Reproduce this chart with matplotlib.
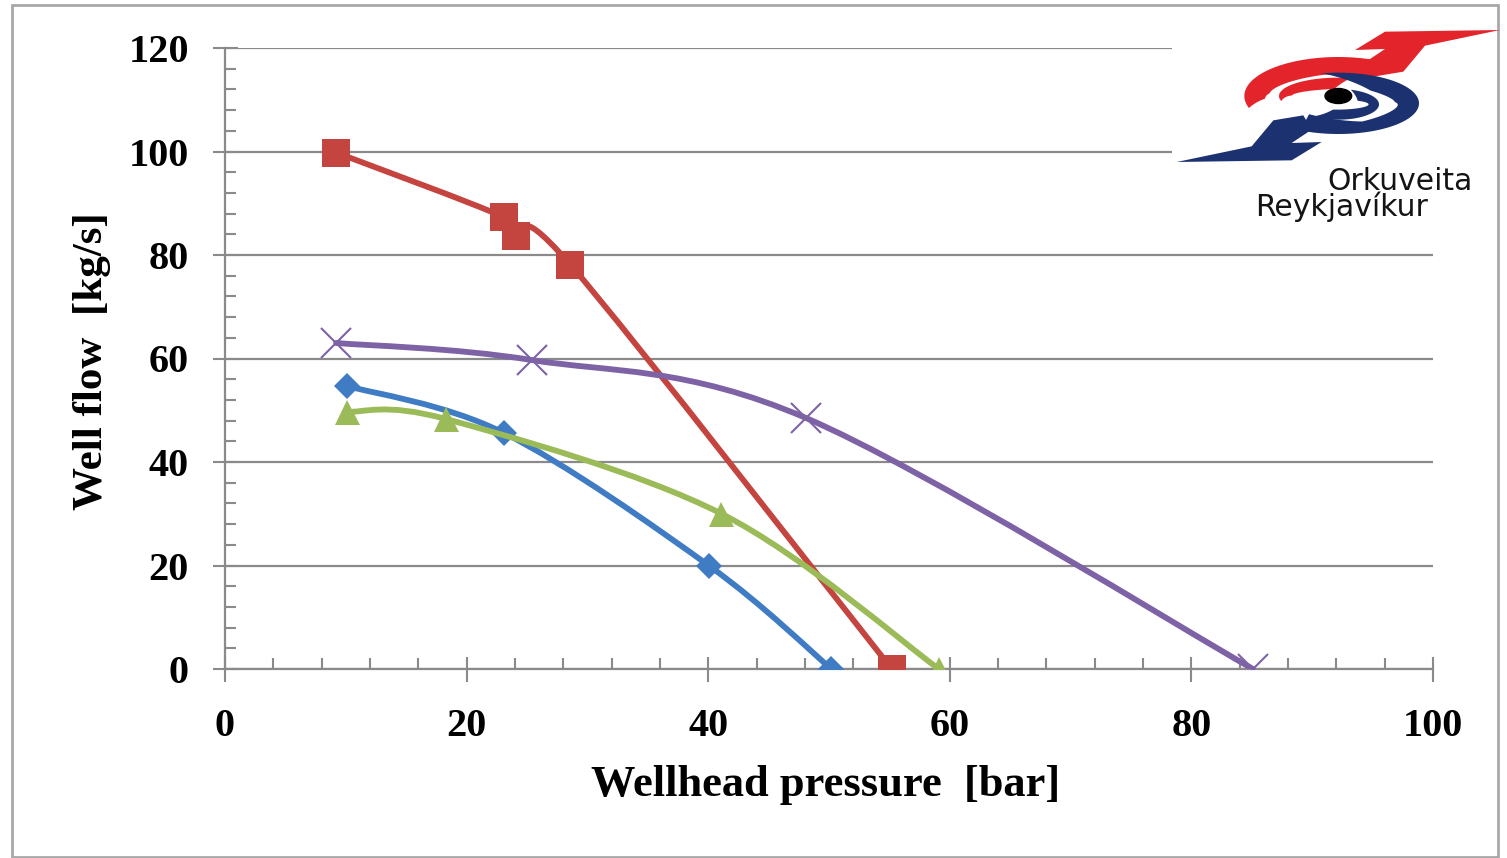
import numpy as np
import matplotlib
matplotlib.use("Agg")
import matplotlib.pyplot as plt
from matplotlib.path import Path
from matplotlib.patches import PathPatch, Polygon, Ellipse, Rectangle
from matplotlib.ticker import MultipleLocator

W, H = 1507, 858

# wellhead pressure [bar] and well flow [kg/s] for each well
blue_p = [10.1, 23.1, 40.1, 50.2]
blue_q = [54.7, 45.6, 19.9, 0.0]
red_p = [9.2, 23.1, 24.1, 28.6, 55.2]
red_q = [99.8, 87.3, 83.7, 78.1, 0.0]
green_p = [10.1, 18.3, 41.1, 59.1]
green_q = [49.7, 48.3, 30.0, 0.0]
purple_p = [9.2, 25.4, 48.1, 85.1]
purple_q = [63.0, 59.7, 48.5, 0.0]

x_ticks = [0, 20, 40, 60, 80, 100]
y_ticks = [0, 20, 40, 60, 80, 100, 120]

GRAY = "#8a8a8a"
SERIF = "Liberation Serif"


def smooth_path(xs, ys):
    # excel style smoothed line: cubic bezier through the points
    pts = np.column_stack([xs, ys]).astype(float)
    n = len(pts)
    verts = [pts[0]]
    codes = [Path.MOVETO]
    for i in range(n - 1):
        p0 = pts[max(i - 1, 0)]
        p1 = pts[i]
        p2 = pts[i + 1]
        p3 = pts[min(i + 2, n - 1)]
        verts += [p1 + (p2 - p0) / 6, p2 - (p3 - p1) / 6, p2]
        codes += [Path.CURVE4] * 3
    return Path(verts, codes)


def draw_series(ax, xs, ys, color, marker, ms, z, mew=0):
    line = PathPatch(smooth_path(xs, ys), fill=False, edgecolor=color, lw=4.2,
                     capstyle="round", joinstyle="round", zorder=z,
                     transform=ax.transData)
    ax.add_patch(line)
    ax.plot(xs, ys, linestyle="none", marker=marker, ms=ms,
            mfc=color, mec=color, mew=mew, zorder=z + 0.5)


def crescent(cx, cy, a, b, t0, t1, wt, ww):
    # elliptic band whose width follows (wt, ww) along the angle
    t = np.linspace(t0, t1, 120)
    if t1 > t0:
        w = np.interp(t, wt, ww)
    else:
        w = np.interp(-t, [-v for v in wt], ww)
    r = np.radians(t)
    outer = np.column_stack([cx + a * np.cos(r), cy - b * np.sin(r)])
    inner = np.column_stack([cx + (a - w) * np.cos(r), cy - (b - w) * np.sin(r)])
    return np.vstack([outer, inner[::-1]])


def draw_logo(fig):
    lax = fig.add_axes([1172 / W, 1 - 166 / H, (1495 - 1172) / W, (166 - 25) / H])
    lax.set_xlim(6, 975)
    lax.set_ylim(423, 0)
    lax.set_facecolor("white")
    lax.set_xticks([])
    lax.set_yticks([])
    for s in lax.spines.values():
        s.set_visible(False)
    lax.set_zorder(5)

    red = "#e3252b"
    blue = "#1c3170"
    c = np.array([505, 213])

    bolt = np.array([(990, 15), (645, 20), (555, 75), (645, 72), (585, 112),
                     (610, 155), (700, 140), (765, 62)], float)
    lax.add_patch(Polygon(bolt, closed=True, color=red, lw=0, clip_on=False))
    lax.add_patch(Polygon(crescent(505, 213, 282, 117, 62, 198,
                                   [62, 100, 170, 188, 198], [56, 52, 72, 60, 0]),
                          closed=True, color=red, lw=0))
    lax.add_patch(Polygon(crescent(505, 213, 178, 55, 78, 196,
                                   [78, 95, 175, 196], [0, 34, 38, 0]),
                          closed=True, color=red, lw=0))

    lax.add_patch(Polygon(2 * c - bolt, closed=True, color=blue, lw=0, clip_on=False))
    lax.add_patch(Polygon(crescent(505, 235, 242, 92, 102, -118,
                                   [102, 60, 10, -70, -118], [0, 48, 70, 34, 55]),
                          closed=True, color=blue, lw=0))
    lax.add_patch(Polygon(crescent(505, 238, 122, 46, 72, -128,
                                   [72, 50, -100, -128], [0, 32, 30, 0]),
                          closed=True, color=blue, lw=0))
    lax.add_patch(Ellipse((505, 213), 80, 45, color="black"))

    fig.text(1473 / W, 1 - 190 / H, "Orkuveita", ha="right", va="baseline",
             fontsize=21.5, color="#141414", family="DejaVu Sans", zorder=10)
    fig.text(1255 / W, 1 - 216 / H, "Reykjavíkur", ha="left", va="baseline",
             fontsize=21.5, color="#141414", family="DejaVu Sans", zorder=10)


def main():
    fig = plt.figure(figsize=(W / 100, H / 100), dpi=100)
    fig.patches.append(Rectangle((12 / W, 1 - 857 / H), (1498 - 12) / W, (857 - 5) / H,
                                 transform=fig.transFigure, fill=False,
                                 edgecolor="#a8a8a8", lw=2))

    ax = fig.add_axes([225 / W, 1 - 669 / H, (1433 - 225) / W, (669 - 48) / H])
    ax.set_xlim(0, 100)
    ax.set_ylim(0, 120)

    draw_series(ax, blue_p, blue_q, "#3f7cc4", "D", 13, 3)
    draw_series(ax, red_p, red_q, "#c4443f", "s", 20, 4)
    draw_series(ax, green_p, green_q, "#9bbb59", "^", 18, 5)
    draw_series(ax, purple_p, purple_q, "#7d62a6", "x", 21, 6, mew=1.5)

    ax.set_xticks(x_ticks)
    ax.set_yticks(y_ticks)
    ax.xaxis.set_minor_locator(MultipleLocator(4))
    ax.yaxis.set_minor_locator(MultipleLocator(4))
    ax.tick_params(which="major", direction="inout", length=18, width=1.5,
                   color=GRAY)
    ax.tick_params(axis="x", which="major", pad=19)
    ax.tick_params(axis="y", which="major", pad=17)
    ax.tick_params(which="minor", direction="in", length=8, width=1.5, color=GRAY)
    for lab in ax.get_xticklabels() + ax.get_yticklabels():
        lab.set_fontfamily(SERIF)
        lab.set_fontweight("bold")
        lab.set_fontsize(29)

    ax.yaxis.grid(True, color=GRAY, lw=1.6)
    ax.set_axisbelow(True)
    for side in ["top", "right"]:
        ax.spines[side].set_visible(False)
    for side in ["left", "bottom"]:
        ax.spines[side].set_color(GRAY)
        ax.spines[side].set_linewidth(1.6)

    fig.text(826 / W, 1 - 785 / H, "Wellhead pressure  [bar]", ha="center", va="center",
             family=SERIF, weight="bold", fontsize=32)
    fig.text(92 / W, 1 - 361 / H, "Well flow  [kg/s]", ha="center", va="center",
             rotation=90, family=SERIF, weight="bold", fontsize=31)

    draw_logo(fig)

    fig.savefig("out.png", dpi=100, facecolor="white")


if __name__ == "__main__":
    main()
